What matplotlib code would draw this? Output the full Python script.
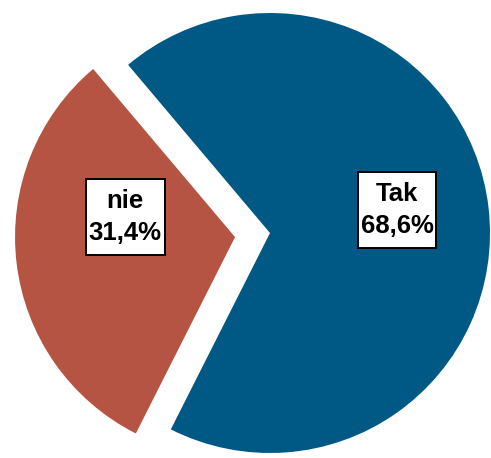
import matplotlib.pyplot as plt
from matplotlib.patches import Rectangle
import numpy as np

# dane
categories = ['Tak', 'nie']
values = [68.6, 31.4]
colors = ['#005984', '#B55442']
explode = [0, 0.16]

fig = plt.figure(figsize=(4.91, 4.58), dpi=100)
ax = fig.add_axes([0, 0, 1, 1])

wedges, _ = ax.pie(values, colors=colors, explode=explode, startangle=-116.8,
                   counterclock=True, radius=1.0, wedgeprops=dict(linewidth=0))

ax.set_xlim(-270 / 220, (491 - 270) / 220)
ax.set_ylim((233 - 458) / 220, 233 / 220)
ax.set_aspect('equal')
ax.axis('off')

# etykiety w ramkach
label_pos = [(0.577, 0.105), (-0.659, 0.073)]
texts = []
for name, val, (x, y) in zip(categories, values, label_pos):
    txt = f"{name}\n{val:.1f}%".replace('.', ',')
    t = ax.text(x, y, txt, ha='center', va='center', fontsize=18.5, fontweight='bold',
                family=['Liberation Sans', 'DejaVu Sans'], linespacing=1.4, zorder=5)
    texts.append(t)

fig.canvas.draw()
inv = ax.transData.inverted()
padx, pady = 3, 10
for t in texts:
    bb = t.get_window_extent()
    (x0, y0) = inv.transform((bb.x0 - padx, bb.y0 - pady))
    (x1, y1) = inv.transform((bb.x1 + padx, bb.y1 + pady))
    ax.add_patch(Rectangle((x0, y0), x1 - x0, y1 - y0, facecolor='white',
                           edgecolor='black', linewidth=1.4, zorder=4))

plt.savefig('out.png', dpi=100)
